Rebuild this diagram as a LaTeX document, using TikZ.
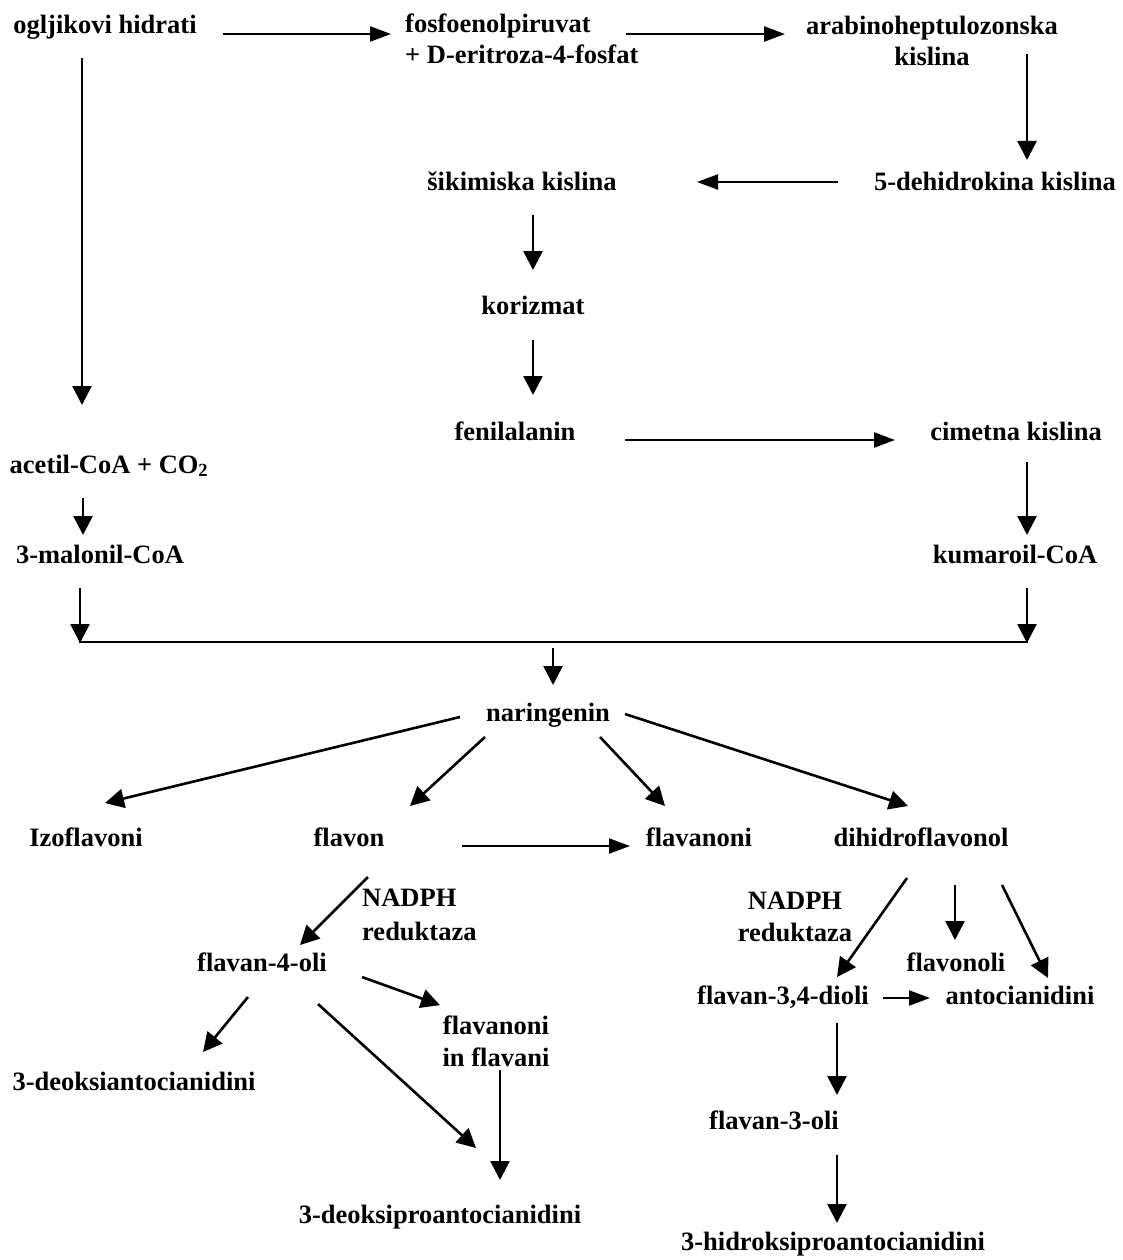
\documentclass[tikz,border=0pt]{standalone}
\usepackage{fontspec}
\setmainfont{Liberation Serif}
\usetikzlibrary{arrows.meta,calc}
\begin{document}
\begin{tikzpicture}[x=1pt,y=-1pt,
  lbl/.style={inner sep=0pt, font=\fontsize{26.5}{31}\selectfont\bfseries, text height=18pt, text depth=6pt},
  mlbl/.style={inner sep=0pt, font=\fontsize{26.5}{31}\selectfont\bfseries},
  arr/.style={line width=2.6pt, -{Triangle[length=19pt,width=19pt]}},
  harr/.style={line width=2.2pt, -{Triangle[length=21pt,width=15pt]}},
  bar/.style={line width=2.6pt}
]
\useasboundingbox (0,0) rectangle (1123,1260);

% nodes
\node[lbl] (ogl) at (105,28) {ogljikovi hidrati};
\node[mlbl, align=left, anchor=base west] (fos) at (405,64) {fosfoenolpiruvat\\+ D-eritroza-4-fosfat};
\node[mlbl, align=center, anchor=base] (arab) at (932,66) {arabinoheptulozonska\\kislina};
\node[lbl] (dhk) at (995,185) {5-dehidrokina kislina};
\node[lbl] (sik) at (522,185) {šikimiska kislina};
\node[lbl] (kor) at (533,308) {korizmat};
\node[lbl] (fen) at (515,434) {fenilalanin};
\node[lbl] (cim) at (1016,434) {cimetna kislina};
\node[lbl] (kum) at (1015,557) {kumaroil-CoA};
\node[lbl] (ace) at (109,467) {acetil-CoA + CO\textsubscript{2}};
\node[lbl] (mal) at (100,557) {3-malonil-CoA};
\node[lbl] (nar) at (548,715) {naringenin};
\node[lbl] (izo) at (86,840) {Izoflavoni};
\node[lbl] (flv) at (349,840) {flavon};
\node[lbl] (fl1) at (699,840) {flavanoni};
\node[lbl] (dhf) at (921,840) {dihidroflavonol};
\node[mlbl, font=\fontsize{26.5}{34}\selectfont\bfseries, align=left, anchor=base west] (nd1) at (362,940) {NADPH\\reduktaza};
\node[lbl] (f4o) at (262,965) {flavan-4-oli};
\node[mlbl, font=\fontsize{26.5}{32}\selectfont\bfseries, align=center, anchor=base] (fl2) at (496,1066) {flavanoni\\in flavani};
\node[lbl] (dac) at (134,1084) {3-deoksiantocianidini};
\node[lbl] (dpa) at (440,1217) {3-deoksiproantocianidini};
\node[mlbl, font=\fontsize{26.5}{32}\selectfont\bfseries, align=center, anchor=base] (nd2) at (795,941) {NADPH\\reduktaza};
\node[lbl] (flo) at (956,965) {flavonoli};
\node[lbl] (f34) at (783,998) {flavan-3,4-dioli};
\node[lbl] (ant) at (1020,998) {antocianidini};
\node[lbl] (f3o) at (774,1123) {flavan-3-oli};
\node[lbl] (hpa) at (833,1244) {3-hidroksiproantocianidini};

% connectors
\draw[harr] ($(ogl)+(118,6)$) -- ($(ogl -| fos.west)+(-14,6)$);
\draw[harr] ($(ogl -| fos.west)+(221,6)$) -- ($(ogl -| arab)+(-147,6)$);
\draw[arr] ($(dhk)+(32,-131)$) -- ($(dhk)+(32,-25)$);
\draw[harr] ($(dhk)+(-157,-3)$) -- ($(sik)+(175,-3)$);
\draw[arr] ($(sik)+(11,30)$) -- ($(kor)+(0,-38)$);
\draw[arr] ($(kor)+(0,32)$) -- ($(fen)+(18,-39)$);
\draw[harr] ($(fen)+(110,6)$) -- ($(cim)+(-121,6)$);
\draw[arr] ($(cim)+(11,28)$) -- ($(kum)+(12,-22)$);
\draw[arr] ($(kum)+(12,31)$) -- ($(kum)+(12,86)$);
\draw[arr] ($(ogl)+(-23,30)$) -- ($(ace)+(-27,-62)$);
\draw[arr] ($(ace)+(-26,31)$) -- ($(mal)+(-17,-22)$);
\draw[arr] ($(mal)+(-20,31)$) -- ($(mal)+(-20,86)$);
\draw[bar] ($(mal)+(-21.3,85)$) -- ($(kum)+(13.3,85)$);
\draw[arr] ($(nar)+(5,-67)$) -- ($(nar)+(5,-30)$);
\draw[arr] ($(nar)+(-88,2)$) -- ($(izo)+(19,-37)$);
\draw[arr] ($(nar)+(-63,22)$) -- ($(flv)+(61,-34)$);
\draw[arr] ($(nar)+(52,22)$) -- ($(fl1)+(-34,-34)$);
\draw[arr] ($(nar)+(77,-1)$) -- ($(dhf)+(-13,-34)$);
\draw[harr] ($(flv)+(113,6)$) -- ($(fl1)+(-69,6)$);
\draw[arr] ($(flv)+(19,37)$) -- ($(f4o)+(38,-20)$);
\draw[arr] ($(f4o)+(-14,32)$) -- ($(dac)+(69,-32)$);
\draw[arr] ($(f4o)+(56,39)$) -- ($(dpa)+(36,-69)$);
\draw[arr] ($(f4o)+(100,12)$) -- ($(fl2.north)+(-56,-10)$);
\draw[arr] ($(fl2.south)+(4,4)$) -- ($(dpa)+(60,-37)$);
\draw[arr] ($(dhf)+(-14,38)$) -- ($(f34)+(54,-21)$);
\draw[arr] ($(dhf)+(34,45)$) -- ($(flo)+(-1,-25)$);
\draw[arr] ($(dhf)+(81,45)$) -- ($(ant)+(28,-20)$);
\draw[harr] ($(f34)+(100,0)$) -- ($(ant)+(-90,0)$);
\draw[arr] ($(f34)+(54,25)$) -- ($(f3o)+(63,-28)$);
\draw[arr] ($(f3o)+(63,32)$) -- ($(hpa)+(4,-21)$);
\end{tikzpicture}
\end{document}
